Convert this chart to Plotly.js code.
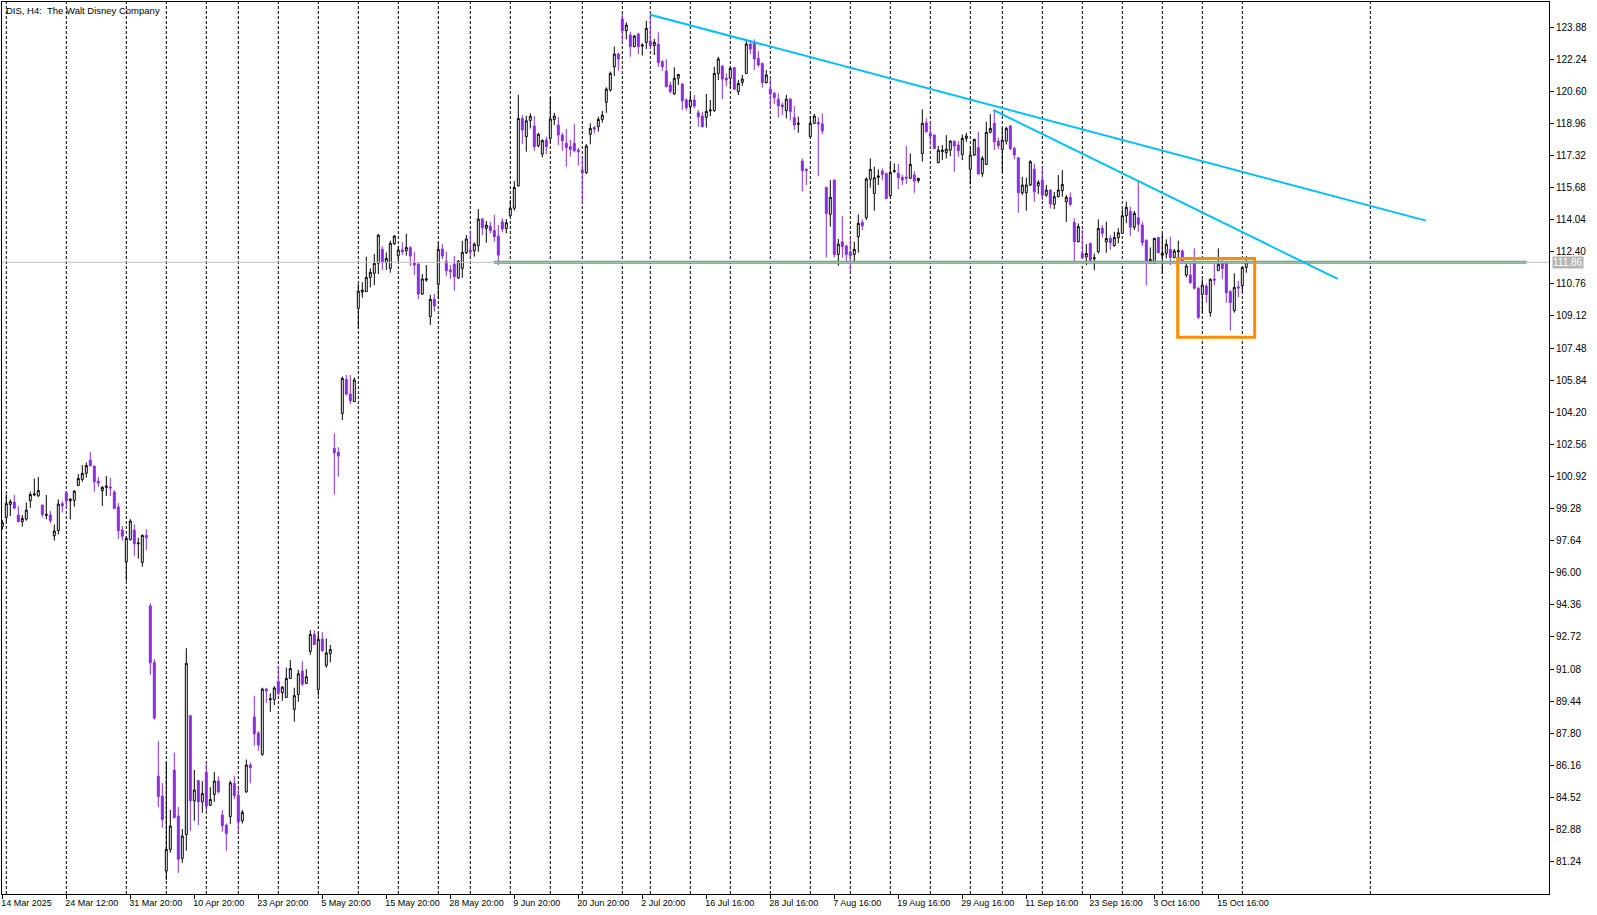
<!DOCTYPE html>
<html><head><meta charset="utf-8">
<script src="https://cdn.plot.ly/plotly-3.0.1.min.js"></script>
<style>html,body{margin:0;padding:0;background:#fff;overflow:hidden}#chart{width:1597px;height:915px}</style>
</head><body><div id="chart"></div>
<script>
// H4 bars of DIS, index -1 .. 310 (bar -1 is partly hidden at the left edge)
const firstBar = -1;
const barOpen = [98.35,98.83,99.49,99.61,98.95,98.61,98.74,99.68,99.97,99.93,99.46,
98.93,98.95,97.89,98.16,99.53,100.09,99.68,99.70,100.46,100.77,
101.08,101.76,101.45,100.68,100.19,100.36,100.38,100.12,99.36,98.18,
96.56,97.69,98.18,97.48,96.53,97.91,94.30,91.42,85.61,84.59,
80.76,81.87,85.92,83.57,81.41,82.63,88.70,84.35,85.38,84.30,
85.80,84.13,84.68,85.36,83.62,83.11,83.54,85.24,84.64,83.33,
84.81,86.18,88.63,87.81,86.72,90.06,89.51,89.53,90.45,89.87,
89.63,90.60,89.02,89.78,90.98,90.35,91.98,92.85,90.04,92.61,
91.27,91.88,102.35,102.16,104.14,105.88,105.13,104.74,109.51,110.34,
110.36,111.09,111.30,111.81,112.52,111.84,111.55,112.81,112.21,112.49,
112.45,112.61,111.84,111.77,110.24,110.95,109.08,109.97,110.73,112.54,
111.92,111.47,111.77,111.07,111.55,112.35,112.49,112.45,112.71,114.07,
113.59,113.71,113.48,113.20,113.93,113.59,114.24,114.62,115.77,119.21,
118.28,119.11,118.82,117.82,117.39,118.11,118.19,119.16,118.87,118.36,
117.94,117.77,117.94,117.60,116.57,116.44,118.40,118.75,118.79,119.16,
120.03,120.66,121.85,122.50,124.29,123.69,123.47,122.88,123.52,122.91,
123.08,123.17,122.93,123.01,122.11,121.63,120.92,120.46,121.26,120.97,
120.15,119.81,120.15,119.50,119.33,119.27,119.59,119.61,121.51,121.89,
121.26,121.26,121.80,120.58,121.05,121.51,123.01,123.08,122.28,122.02,
121.04,120.70,120.49,120.19,119.90,119.61,120.20,119.25,118.91,117.03,
116.61,118.28,118.96,119.01,118.93,115.69,114.31,116.06,112.26,112.91,
112.69,112.37,112.26,113.17,113.90,114.14,116.10,115.38,116.20,116.52,
116.40,115.26,116.49,116.40,116.20,116.21,116.15,116.32,116.03,117.42,
118.99,118.45,118.36,116.95,117.51,117.46,117.59,118.05,117.85,117.37,
118.19,116.61,117.34,117.73,116.40,116.86,118.50,118.96,118.05,117.63,
118.05,118.82,117.68,117.20,115.41,115.41,115.81,116.62,115.77,116.06,
115.29,115.55,114.82,115.21,115.52,114.95,115.18,113.90,112.91,112.31,
112.14,112.83,112.04,112.40,113.60,112.91,113.08,112.71,113.12,113.34,
114.24,114.45,113.65,114.14,113.77,112.99,111.84,111.81,113.12,112.22,
112.32,112.52,112.11,112.40,112.44,111.21,111.21,111.81,110.53,110.22,
110.65,109.29,111.01,111.43,111.81,111.86,110.36,109.39,110.61,110.67,111.60];
const barHigh = [98.70,100.00,99.75,99.97,99.41,98.95,99.59,100.14,100.82,100.89,99.48,
99.97,99.15,98.47,99.75,99.66,100.19,99.82,100.22,101.04,101.50,
101.64,102.17,101.48,100.89,100.43,100.94,100.85,100.22,99.56,98.39,
97.87,98.74,98.47,97.79,97.96,98.23,94.45,91.59,87.40,85.26,
86.33,83.88,86.81,84.03,82.91,92.15,88.73,85.92,85.41,85.36,
86.21,85.05,85.83,85.61,83.88,83.19,85.38,85.61,84.98,83.88,
86.46,86.31,89.70,87.91,90.13,90.13,89.84,90.21,91.23,90.21,
91.16,91.54,90.13,91.03,91.49,91.08,93.07,93.07,92.97,92.97,
92.65,92.31,103.12,102.41,106.02,106.10,106.10,105.98,110.75,110.84,
112.15,111.55,112.28,113.31,112.69,112.37,112.96,113.25,112.69,112.88,
113.31,112.69,112.40,111.86,111.26,111.72,110.19,110.24,112.88,112.79,
112.40,111.72,112.18,111.98,112.96,113.25,113.48,112.88,114.58,114.11,
113.97,113.93,114.28,113.76,114.11,114.07,115.04,116.01,120.41,119.38,
119.35,119.47,119.33,118.48,118.14,118.28,120.29,119.50,119.27,118.48,
118.67,118.11,118.92,117.72,117.22,117.90,118.96,118.82,119.30,119.59,
120.80,121.60,122.88,122.57,124.54,124.12,123.64,123.47,123.59,123.05,
124.19,124.53,123.27,123.61,122.19,122.23,121.09,121.82,121.48,121.00,
120.24,120.49,120.41,119.64,119.55,120.46,120.15,121.85,122.36,121.92,
121.51,121.89,121.85,121.17,121.43,123.27,123.22,123.25,122.65,122.06,
121.68,121.26,120.58,120.49,120.03,120.41,120.24,119.84,119.30,117.17,
116.66,119.33,119.44,119.27,119.47,115.72,116.06,116.09,113.05,114.22,
112.77,113.05,112.91,114.31,114.05,116.20,117.17,116.74,116.61,116.66,
116.44,116.91,116.91,116.88,116.32,117.80,117.42,116.52,116.18,119.67,
119.21,118.99,118.39,117.80,117.85,118.36,118.10,118.09,118.05,118.39,
118.48,117.76,118.17,118.53,117.29,119.04,119.42,119.64,118.24,118.73,
118.79,118.87,117.76,117.22,116.23,116.18,117.08,116.91,116.06,116.66,
115.81,115.58,115.46,116.32,116.57,115.29,115.43,114.10,113.85,113.51,
112.79,112.86,112.31,114.05,113.76,113.94,113.25,113.42,113.60,114.57,
114.96,114.70,114.48,116.06,113.94,113.03,112.62,113.12,113.17,113.34,
113.03,113.17,112.54,112.97,112.52,111.84,111.89,112.57,110.61,110.99,
110.78,111.04,111.77,112.57,112.06,111.89,110.44,111.30,110.90,111.64,112.18];
const barLow = [98.20,98.61,98.90,99.24,98.61,98.35,98.66,99.32,99.93,99.88,98.83,
98.73,98.52,97.64,97.96,99.08,99.29,98.73,99.37,100.43,100.65,
100.86,101.42,100.14,100.39,99.41,99.92,99.92,99.24,97.72,97.64,
95.59,97.65,96.87,96.72,96.31,97.16,90.79,88.49,84.03,82.97,
80.30,81.70,83.45,80.67,81.18,81.80,82.82,83.33,83.11,83.74,
83.83,84.08,84.30,84.73,82.77,81.80,83.16,84.44,82.73,83.19,
84.76,85.24,87.16,86.91,86.65,89.36,88.90,89.24,89.75,89.46,
89.63,90.57,88.39,89.41,90.21,90.31,91.81,92.31,89.72,91.96,
91.15,91.42,100.00,100.91,103.80,105.05,104.62,104.74,108.49,110.05,
110.36,110.58,110.70,111.26,111.47,111.47,111.33,112.74,111.89,112.23,
112.20,111.67,111.21,109.98,110.19,110.87,108.66,109.34,109.98,112.03,
111.16,111.01,110.41,111.01,111.07,112.28,112.15,112.15,112.40,113.25,
112.86,113.34,112.91,111.72,113.39,113.34,114.19,114.50,115.72,117.90,
117.51,118.70,117.56,117.73,117.22,117.39,117.97,118.87,117.85,117.56,
116.74,117.26,117.48,116.80,114.91,116.37,117.89,118.45,118.53,118.99,
119.50,120.58,121.38,121.65,123.08,123.25,122.36,122.84,122.50,122.42,
122.76,122.76,122.45,121.85,121.65,120.80,120.49,120.41,120.92,119.64,
119.61,119.47,119.72,118.79,118.75,118.74,119.33,119.55,121.17,120.20,
120.87,120.75,120.66,120.41,120.88,121.48,122.50,121.68,121.85,120.78,
121.00,119.78,119.95,119.25,119.38,119.21,119.10,118.62,118.48,115.47,
115.81,118.24,118.92,116.26,118.41,112.10,113.68,112.11,111.68,112.09,
111.89,111.43,111.89,112.35,113.51,114.02,115.67,114.49,115.81,116.06,
115.09,115.21,116.44,115.60,115.81,115.86,116.11,115.41,115.92,117.00,
118.48,117.85,117.64,116.91,117.08,117.17,117.29,116.49,117.25,117.08,
118.02,115.84,117.29,116.35,116.23,116.83,118.45,117.59,117.64,116.44,
117.88,117.59,117.12,114.39,115.29,114.49,115.75,114.95,115.35,115.04,
115.21,114.61,114.58,115.18,115.21,113.93,114.73,111.84,112.88,112.02,
111.72,111.89,111.46,112.31,113.12,112.35,112.49,112.66,112.83,113.30,
113.85,113.22,113.51,113.42,112.69,110.67,111.77,111.77,112.32,111.26,
112.06,111.72,112.06,111.98,111.76,111.09,110.75,110.48,108.96,109.29,
109.80,109.08,110.70,111.43,110.99,109.80,108.37,109.29,110.07,110.33,111.33];
const barClose = [98.55,99.54,99.63,99.30,98.61,98.78,99.20,100.00,100.02,100.21,98.98,
98.98,98.66,98.13,99.51,99.41,99.68,99.75,100.17,100.82,101.08,
101.48,101.47,100.65,100.58,100.36,100.43,100.33,99.29,98.15,97.87,
97.76,98.64,97.48,97.52,97.91,97.79,91.40,88.58,84.56,83.40,
81.87,83.06,83.50,81.37,82.55,91.37,84.35,84.90,84.30,84.73,
84.08,84.42,85.36,84.81,83.08,82.68,85.27,84.61,83.28,83.76,
86.18,86.04,87.78,87.20,90.06,89.97,89.56,90.11,89.84,90.16,
90.60,91.11,89.73,90.84,90.31,90.69,92.85,92.34,92.60,92.02,
91.91,92.08,102.13,101.97,105.93,105.13,104.79,105.85,110.39,110.44,
111.09,111.35,111.81,113.25,111.84,112.06,112.83,113.20,112.49,112.40,
112.62,112.18,111.72,110.24,111.01,111.01,109.97,109.63,112.52,112.18,
111.43,111.38,111.13,111.92,112.37,113.05,112.40,112.79,114.07,113.63,
113.76,113.48,113.17,112.23,113.56,113.88,114.62,115.69,119.21,118.62,
119.09,119.32,117.77,118.40,118.09,117.77,119.18,119.33,118.36,118.07,
117.73,117.63,117.56,117.51,116.44,117.80,118.70,118.67,119.16,119.38,
120.71,121.51,122.50,122.25,123.69,123.98,122.88,123.42,122.88,122.96,
123.81,122.93,123.10,122.06,121.85,120.83,120.58,121.26,121.46,120.12,
119.76,120.15,119.84,119.30,118.79,119.57,119.64,121.51,122.25,121.22,
121.17,121.77,120.71,121.00,121.22,123.01,122.76,122.25,121.94,121.04,
121.43,120.46,120.27,119.86,119.81,120.19,119.55,118.87,118.96,116.54,
116.54,118.96,119.33,118.93,118.58,114.36,115.18,112.26,112.79,112.66,
112.26,112.20,112.52,113.85,113.73,116.11,116.61,116.18,116.27,116.35,
115.12,116.45,116.54,116.18,116.06,116.16,116.86,116.01,116.15,118.96,
118.53,118.31,117.68,117.59,117.59,117.64,118.05,117.80,117.56,118.19,
118.31,117.34,118.14,116.37,117.17,118.50,118.70,118.02,117.82,118.10,
118.70,117.68,117.34,115.41,115.81,115.81,117.00,115.46,115.94,115.29,
115.55,114.84,115.21,115.55,115.84,115.18,114.82,112.91,113.68,112.09,
112.31,111.97,112.09,113.59,113.34,113.08,112.86,113.13,113.37,114.24,
114.67,113.65,114.36,113.80,112.86,111.89,112.01,113.08,112.35,112.32,
112.78,112.11,112.44,112.45,111.94,111.67,110.82,110.53,109.05,110.70,
110.22,110.99,110.95,111.76,111.55,110.31,109.80,110.58,110.55,111.60,111.86];

// time axis: bar indices of period separators and of labelled bars
const gridBars = [0,15,30,40,50,58,68,78,88,98,108,116,126,136,144,154,161,171,181,191,201,211,221,231,241,249,259,269,279,289,299,309,341];
const labelBars = [-1,15,31,47,63,79,95,111,127,143,159,175,191,207,223,239,255,271,287,303];
const labelTexts = ['14 Mar 2025','24 Mar 12:00','31 Mar 20:00','10 Apr 20:00','23 Apr 20:00','5 May 20:00','15 May 20:00','28 May 20:00','9 Jun 20:00','20 Jun 20:00','2 Jul 20:00','16 Jul 16:00','28 Jul 16:00','7 Aug 16:00','19 Aug 16:00','29 Aug 16:00','11 Sep 16:00','23 Sep 16:00','3 Oct 16:00','15 Oct 16:00'];
const priceTicks = [123.88,122.24,120.60,118.96,117.32,115.68,114.04,112.40,110.76,109.12,107.48,105.84,104.20,102.56,100.92,99.28,97.64,96.00,94.36,92.72,91.08,89.44,87.80,86.16,84.52,82.88,81.24];
const priceTickTexts = ['123.88','122.24','120.60','118.96','117.32','115.68','114.04','112.40','110.76','109.12','107.48','105.84','104.20','102.56','100.92','99.28','97.64','96.00','94.36','92.72','91.08','89.44','87.80','86.16','84.52','82.88','81.24'];
const lastPrice = 111.86;

// drawn objects (bar index, price)
const trend1 = [[161, 124.51], [354.9, 113.99]];
const trend2 = [[246.75, 119.64], [332.85, 111.01]];
const supportLine = [[121.9, 111.86], [380.1, 111.86]];
const focusBox = [[292.85, 112.06], [312.1, 108.03]];

const barIndex = barOpen.map((_, k) => firstBar + k);

const trace = {
  type: 'candlestick',
  x: barIndex, open: barOpen, high: barHigh, low: barLow, close: barClose,
  increasing: {line: {color: '#000000', width: 1}, fillcolor: '#ffffff'},
  decreasing: {line: {color: '#8a2be2', width: 1}, fillcolor: '#8a2be2'},
  whiskerwidth: 0,
  hoverinfo: 'skip',
  showlegend: false
};

const shapes = gridBars.map(b => ({
  type: 'line', xref: 'x', yref: 'paper', x0: b, x1: b, y0: 0, y1: 1,
  line: {color: '#000000', width: 1, dash: '3px,2px'}, layer: 'below'
}));
shapes.push({type: 'line', xref: 'x', yref: 'y', x0: supportLine[0][0], y0: supportLine[0][1], x1: supportLine[1][0], y1: supportLine[1][1], line: {color: '#3cb371', width: 3}, layer: 'above'});
shapes.push({type: 'line', xref: 'paper', yref: 'y', x0: 0, x1: 1, y0: lastPrice, y1: lastPrice, line: {color: '#c0c0c0', width: 1}, layer: 'above'});
shapes.push({type: 'line', xref: 'x', yref: 'y', x0: trend1[0][0], y0: trend1[0][1], x1: trend1[1][0], y1: trend1[1][1], line: {color: '#00bfff', width: 2}, layer: 'above'});
shapes.push({type: 'line', xref: 'x', yref: 'y', x0: trend2[0][0], y0: trend2[0][1], x1: trend2[1][0], y1: trend2[1][1], line: {color: '#00bfff', width: 2}, layer: 'above'});
shapes.push({type: 'rect', xref: 'x', yref: 'y', x0: focusBox[0][0], y0: focusBox[0][1], x1: focusBox[1][0], y1: focusBox[1][1], line: {color: '#ff8c00', width: 3}, fillcolor: 'rgba(0,0,0,0)', layer: 'above'});

const layout = {
  width: 1597, height: 915,
  margin: {l: 2, r: 48, t: 2, b: 21, pad: 0},
  paper_bgcolor: '#ffffff', plot_bgcolor: '#ffffff',
  showlegend: false,
  font: {family: 'Liberation Sans, Arial, sans-serif', size: 10, color: '#000000'},
  xaxis: {
    range: [-1.075, 385.675], tickmode: 'array', tickvals: labelBars, ticktext: labelTexts,
    ticks: 'outside', ticklen: 4, tickwidth: 1, tickcolor: '#000000',
    ticklabelposition: 'outside right', ticklabelshift: -2, tickfont: {size: 9},
    showgrid: false, zeroline: false, showline: true, linecolor: '#000000', linewidth: 1, mirror: true,
    rangeslider: {visible: false}, fixedrange: true
  },
  yaxis: {
    range: [79.59, 125.158], side: 'right', tickmode: 'array', tickvals: priceTicks, ticktext: priceTickTexts,
    ticks: 'outside', ticklen: 4, tickwidth: 1, tickcolor: '#000000', tickfont: {size: 10},
    showgrid: false, zeroline: false, showline: true, linecolor: '#000000', linewidth: 1, mirror: true,
    fixedrange: true
  },
  shapes: shapes,
  annotations: [
    {xref: 'paper', yref: 'paper', x: 0, y: 1, xanchor: 'left', yanchor: 'top', xshift: 2, yshift: -1,
     text: 'DIS, H4:\u00a0 The Walt Disney Company', showarrow: false, font: {size: 9.5, color: '#000000'}},
    {xref: 'paper', yref: 'y', x: 1, y: lastPrice, xanchor: 'left', yanchor: 'middle', xshift: 3,
     text: lastPrice.toFixed(2), showarrow: false, bgcolor: '#b4b4b4', borderpad: 0,
     font: {size: 10, color: '#ffffff'}}
  ]
};

Plotly.newPlot('chart', [trace], layout, {displayModeBar: false, staticPlot: true});
</script>
</body></html>
